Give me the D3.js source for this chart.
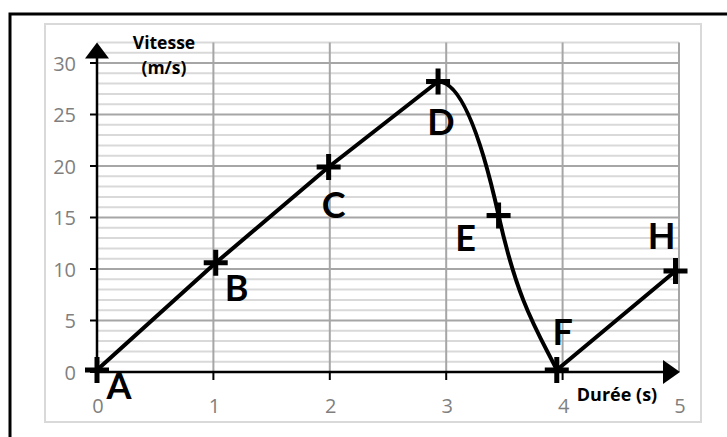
<!DOCTYPE html>
<html>
<head>
<meta charset="utf-8">
<script src="https://cdn.jsdelivr.net/npm/d3@7"></script>
<style>
  html, body { margin: 0; padding: 0; background: #fff; }
  svg { display: block; }
</style>
</head>
<body>
<svg id="chart"></svg>
<script>
// values
const pointNames = ["A", "B", "C", "D", "E", "F", "H"];
const durees     = [0, 1.02, 1.99, 2.93, 3.45, 3.95, 4.97];
const vitesses   = [0.2, 10.6, 19.9, 28.2, 15.2, 0.2, 9.8];
const xTicks = [0, 1, 2, 3, 4, 5];
const yTicks = [0, 5, 10, 15, 20, 25, 30];
const yTitle = ["Vitesse", "(m/s)"];
const xTitle = "Durée (s)";

const W = 727, H = 437;
const plot = {"left": 97, "right": 679, "top": 42.4, "bottom": 372};

const svg = d3.select("#chart")
  .attr("width", W)
  .attr("height", H);

const x = d3.scaleLinear().domain([0, 5]).range([plot.left, plot.right]);
const y = d3.scaleLinear().domain([0, 32]).range([plot.bottom, plot.top]);

// outer frame (only top / left visible)
svg.append("rect")
  .attr("x", 10).attr("y", 14)
  .attr("width", 900).attr("height", 600)
  .attr("fill", "none")
  .attr("stroke", "black")
  .attr("stroke-width", 3);

// chart area frame
svg.append("rect")
  .attr("x", 45).attr("y", 24)
  .attr("width", 656).attr("height", 398)
  .attr("fill", "none")
  .attr("stroke", "#d9d9d9")
  .attr("stroke-width", 2);

// grid
const grid = svg.append("g");
grid.selectAll("line.minor")
  .data(d3.range(1, 33).filter(v => v % 5 != 0))
  .enter()
  .append("line")
  .attr("class", "minor")
  .attr("x1", plot.left).attr("x2", plot.right)
  .attr("y1", d => y(d)).attr("y2", d => y(d))
  .attr("stroke", "#d9d9d9")
  .attr("stroke-width", 2);
grid.selectAll("line.major")
  .data(yTicks.filter(v => v > 0))
  .enter()
  .append("line")
  .attr("class", "major")
  .attr("x1", plot.left).attr("x2", plot.right)
  .attr("y1", d => y(d)).attr("y2", d => y(d))
  .attr("stroke", "#a6a6a6")
  .attr("stroke-width", 2);
grid.selectAll("line.vert")
  .data(xTicks.filter(v => v > 0))
  .enter()
  .append("line")
  .attr("class", "vert")
  .attr("x1", d => x(d)).attr("x2", d => x(d))
  .attr("y1", y(32)).attr("y2", plot.bottom)
  .attr("stroke", "#a6a6a6")
  .attr("stroke-width", 2);

// axes
const axes = svg.append("g");
axes.append("line")
  .attr("x1", x(0)).attr("x2", x(0))
  .attr("y1", plot.bottom + 1).attr("y2", y(32) + 10)
  .attr("stroke", "black").attr("stroke-width", 2.5);
axes.append("line")
  .attr("x1", x(0) - 1).attr("x2", x(5) - 10)
  .attr("y1", y(0)).attr("y2", y(0))
  .attr("stroke", "black").attr("stroke-width", 2.5);
// arrow heads
axes.append("path")
  .attr("d", `M${x(0)},${y(32)} L${x(0) + 12},${y(32) + 16} L${x(0) - 12},${y(32) + 16} Z`)
  .attr("fill", "black");
axes.append("path")
  .attr("d", `M${x(5) + 1},${y(0)} L${x(5) - 16},${y(0) - 12} L${x(5) - 16},${y(0) + 12} Z`)
  .attr("fill", "black");

axes.selectAll("line.ytick")
  .data(yTicks)
  .enter()
  .append("line")
  .attr("class", "ytick")
  .attr("x1", x(0) - 7).attr("x2", x(0))
  .attr("y1", d => y(d)).attr("y2", d => y(d))
  .attr("stroke", "black").attr("stroke-width", 2);
axes.selectAll("line.xtick")
  .data(xTicks.filter(v => v < 5))
  .enter()
  .append("line")
  .attr("class", "xtick")
  .attr("x1", d => x(d)).attr("x2", d => x(d))
  .attr("y1", y(0)).attr("y2", y(0) + 8)
  .attr("stroke", "black").attr("stroke-width", 2);

axes.selectAll("text.ylab")
  .data(yTicks)
  .enter()
  .append("text")
  .attr("class", "ylab")
  .attr("x", x(0) - 21)
  .attr("y", d => y(d))
  .attr("text-anchor", "end")
  .attr("dominant-baseline", "central")
  .attr("font-family", "Open Sans, sans-serif")
  .attr("font-size", 20)
  .attr("fill", "#7f7f7f")
  .text(d => d);
axes.selectAll("text.xlab")
  .data(xTicks)
  .enter()
  .append("text")
  .attr("class", "xlab")
  .attr("x", d => x(d) + 1)
  .attr("y", y(0) + 33)
  .attr("text-anchor", "middle")
  .attr("dominant-baseline", "central")
  .attr("font-family", "Open Sans, sans-serif")
  .attr("font-size", 20)
  .attr("fill", "#7f7f7f")
  .text(d => d);

// axis titles
svg.selectAll("text.ytitle")
  .data(yTitle)
  .enter()
  .append("text")
  .attr("class", "ytitle")
  .attr("x", 164)
  .attr("y", (d, i) => 49 + i * 25)
  .attr("text-anchor", "middle")
  .attr("font-family", "Open Sans, sans-serif")
  .attr("font-weight", "bold")
  .attr("font-size", 17.5)
  .attr("fill", "black")
  .text(d => d);
svg.append("text")
  .attr("x", 617)
  .attr("y", 401)
  .attr("text-anchor", "middle")
  .attr("font-family", "Open Sans, sans-serif")
  .attr("font-weight", "bold")
  .attr("font-size", 18)
  .attr("fill", "black")
  .text(xTitle);

// the curve: straight A..D, smooth drop D..F, straight F..H
const pts = durees.map((d, i) => [x(d), y(vitesses[i])]);
const slopeAt = {3: 0, 4: 4.5, 5: 2};  // px / px tangents for the smooth part
const p = d3.path();
p.moveTo(pts[0][0], pts[0][1]);
for (let i = 1; i < pts.length; i++) {
  const a = pts[i - 1], b = pts[i];
  if (i - 1 in slopeAt && i in slopeAt) {
    const h = (b[0] - a[0]) / 3;
    p.bezierCurveTo(a[0] + h, a[1] + slopeAt[i - 1] * h,
                    b[0] - h, b[1] - slopeAt[i] * h,
                    b[0], b[1]);
  } else {
    p.lineTo(b[0], b[1]);
  }
}
svg.append("path")
  .attr("d", p.toString())
  .attr("fill", "none")
  .attr("stroke", "black")
  .attr("stroke-width", 4)
  .attr("stroke-linejoin", "round");

// plus markers
const marks = svg.append("g");
marks.selectAll("path")
  .data(pts)
  .enter()
  .append("path")
  .attr("d", d => `M${d[0] - 12},${d[1]} H${d[0] + 12} M${d[0]},${d[1] - 13} V${d[1] + 13}`)
  .attr("stroke", "black")
  .attr("stroke-width", 5)
  .attr("fill", "none");

// point letters
const labelShift = [[22, 15], [21, 24], [5, 37], [3, 39], [-33, 22], [6, -39], [-14, -36]];
marks.selectAll("text")
  .data(pointNames)
  .enter()
  .append("text")
  .attr("x", (d, i) => pts[i][0] + labelShift[i][0])
  .attr("y", (d, i) => pts[i][1] + labelShift[i][1])
  .attr("text-anchor", "middle")
  .attr("dominant-baseline", "central")
  .attr("font-family", "Lato, sans-serif")
  .attr("font-weight", "bold")
  .attr("font-size", 36)
  .attr("fill", "black")
  .text(d => d);
</script>
</body>
</html>
